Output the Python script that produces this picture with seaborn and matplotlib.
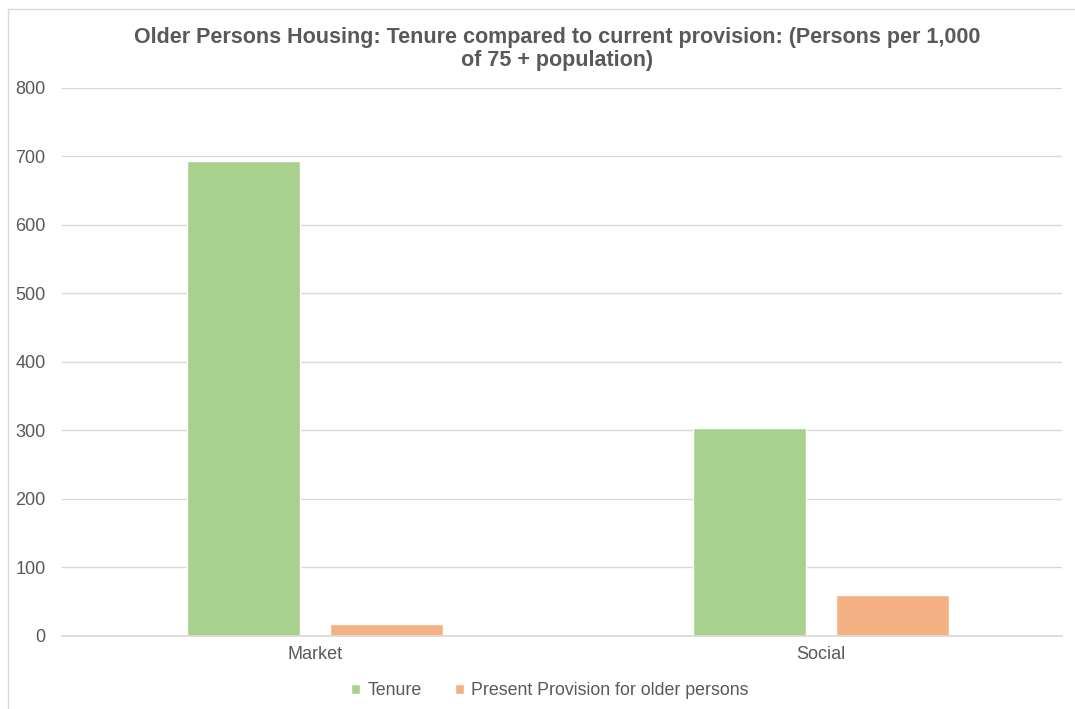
import numpy as np
import pandas as pd
import matplotlib
matplotlib.use("Agg")
import matplotlib.pyplot as plt
import seaborn as sns
import matplotlib.patches as pat

# data
categories = ["Market", "Social"]
series = ["Tenure", "Present Provision for older persons"]
tenure = [693, 304]
provision = [18, 60]

df = pd.DataFrame({
    "category": categories * 2,
    "series": [series[0]] * 2 + [series[1]] * 2,
    "value": tenure + provision,
})

sns.set_theme(style="white")
plt.rcParams["font.family"] = ["Liberation Sans", "DejaVu Sans"]

fig = plt.figure(figsize=(10.75, 7.09), dpi=100)
ax = fig.add_axes([0.058, 0.103, 0.93, 0.773])

sns.barplot(data=df, x="category", y="value", hue="series",
            palette=["#A9D18E", "#F4B183"], width=0.565, gap=0.21,
            saturation=1, ax=ax, legend=True)

ax.set_xlim(-0.5, 1.476)
ax.set_ylim(0, 800)
ax.set_yticks(range(0, 801, 100))
ax.yaxis.grid(True, color="#D9D9D9", lw=1)
ax.set_axisbelow(True)
for s in ["top", "right", "left"]:
    ax.spines[s].set_visible(False)
ax.spines["bottom"].set_color("#D9D9D9")
ax.tick_params(axis="both", length=0, labelsize=13, colors="#595959")
ax.tick_params(axis="y", pad=12)
ax.tick_params(axis="x", pad=7)
ax.set_xlabel("")
ax.set_ylabel("")

fig.suptitle("Older Persons Housing: Tenure compared to current provision: (Persons per 1,000\nof 75 + population)",
             x=0.518, y=0.962, fontsize=15.5, fontweight="bold", color="#595959", linespacing=1.15)

h, l = ax.get_legend_handles_labels()
ax.legend(h, l, loc="center", bbox_to_anchor=(0.488, -0.1), ncol=2, frameon=False,
          fontsize=12.8, labelcolor="#595959", handlelength=0.5, handleheight=0.5,
          handletextpad=0.4, columnspacing=1.9)

# chart frame
fig.patches.append(pat.Rectangle((0.0075, -0.01), 1.2, 0.998, transform=fig.transFigure,
                                 fill=False, edgecolor="#D9D9D9", lw=1))

fig.savefig("out.png", dpi=100)
